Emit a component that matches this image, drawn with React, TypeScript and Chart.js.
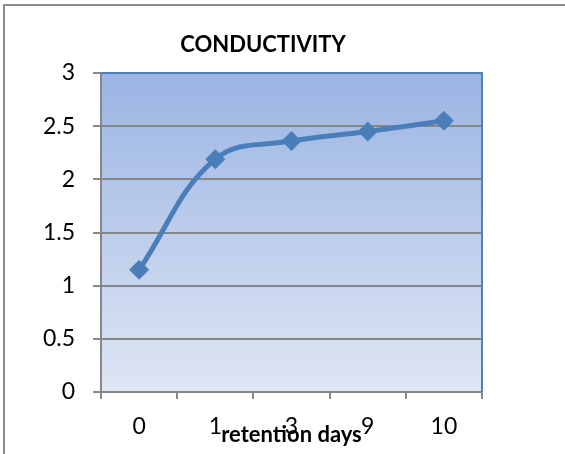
import React, { useEffect, useRef } from "react";
import { Chart, registerables } from "chart.js";
Chart.register(...registerables);

const chartTitle = "CONDUCTIVITY";
const xAxisTitle = "retention days";
const categories = ["0", "1", "3", "9", "10"];
const conductivity = [1.15, 2.19, 2.36, 2.45, 2.55];
const yMin = 0;
const yMax = 3;
const yStep = 0.5;

const FONT = "Lato, 'Open Sans', sans-serif";
const GRID = "#878787";
const BLUE = "#4a7ebb";

export default function App() {
  const ref = useRef<HTMLCanvasElement>(null);
  useEffect(() => {
    document.body.style.margin = "0";
    const decor = {
      id: "excelDecor",
      beforeDraw(chart: any) {
        const { ctx, chartArea: a } = chart;
        ctx.save();
        const g = ctx.createLinearGradient(0, a.top, 0, a.bottom);
        g.addColorStop(0, "#9ab4e3");
        g.addColorStop(1, "#dfe6f4");
        ctx.fillStyle = g;
        ctx.fillRect(a.left, a.top, a.right - a.left, a.bottom - a.top);
        ctx.strokeStyle = "#8c8c8c";
        ctx.lineWidth = 2;
        ctx.beginPath();
        ctx.moveTo(4, chart.height);
        ctx.lineTo(4, 5);
        ctx.lineTo(chart.width, 5);
        ctx.stroke();
        ctx.fillStyle = "#000";
        ctx.font = `bold 22px ${FONT}`;
        ctx.textAlign = "center";
        ctx.textBaseline = "middle";
        ctx.fillText(chartTitle, 263, 45);
        ctx.restore();
      },
      beforeDatasetsDraw(chart: any) {
        const { ctx, chartArea: a } = chart;
        ctx.save();
        ctx.strokeStyle = "#4f81bd";
        ctx.lineWidth = 2;
        ctx.beginPath();
        ctx.moveTo(a.left, a.top);
        ctx.lineTo(a.right, a.top);
        ctx.lineTo(a.right, a.bottom);
        ctx.stroke();
        ctx.restore();
      },
    };
    const chart = new Chart(ref.current!, {
      type: "line",
      data: {
        labels: categories,
        datasets: [
          {
            data: conductivity,
            borderColor: BLUE,
            backgroundColor: BLUE,
            borderWidth: 5,
            tension: 0.4,
            pointStyle: "rectRot",
            pointRadius: 10,
            pointBorderWidth: 0,
            pointBackgroundColor: BLUE,
          },
        ],
      },
      options: {
        animation: false,
        responsive: false,
        maintainAspectRatio: false,
        layout: { padding: { top: 73, right: 83, left: 0, bottom: 0 } },
        plugins: {
          legend: { display: false },
          title: { display: false },
          tooltip: { enabled: false },
        },
        scales: {
          x: {
            offset: true,
            grid: { offset: true, drawOnChartArea: false, color: GRID, lineWidth: 2, tickLength: 7 },
            border: { color: GRID, width: 2 },
            ticks: { color: "#000", font: { family: FONT, size: 23 }, padding: 14 },
            title: {
              display: true,
              text: xAxisTitle,
              color: "#000",
              font: { family: FONT, size: 22, weight: "bold" },
              padding: { top: 0, bottom: 6 },
            },
            afterFit(s: any) {
              s.height = 62;
            },
          },
          y: {
            min: yMin,
            max: yMax,
            ticks: {
              stepSize: yStep,
              color: "#000",
              font: { family: FONT, size: 23 },
              padding: 18,
              callback: (v: any) => String(Number(v)),
            },
            grid: { color: GRID, lineWidth: 2, tickLength: 8 },
            border: { color: GRID, width: 2 },
            afterFit(s: any) {
              s.width = 101;
            },
          },
        },
      },
      plugins: [decor],
    } as any);
    return () => chart.destroy();
  }, []);
  return (
    <div style={{ position: "absolute", left: 0, top: 0, width: 565, height: 454 }}>
      <canvas ref={ref} width={565} height={454} style={{ display: "block" }} />
    </div>
  );
}
